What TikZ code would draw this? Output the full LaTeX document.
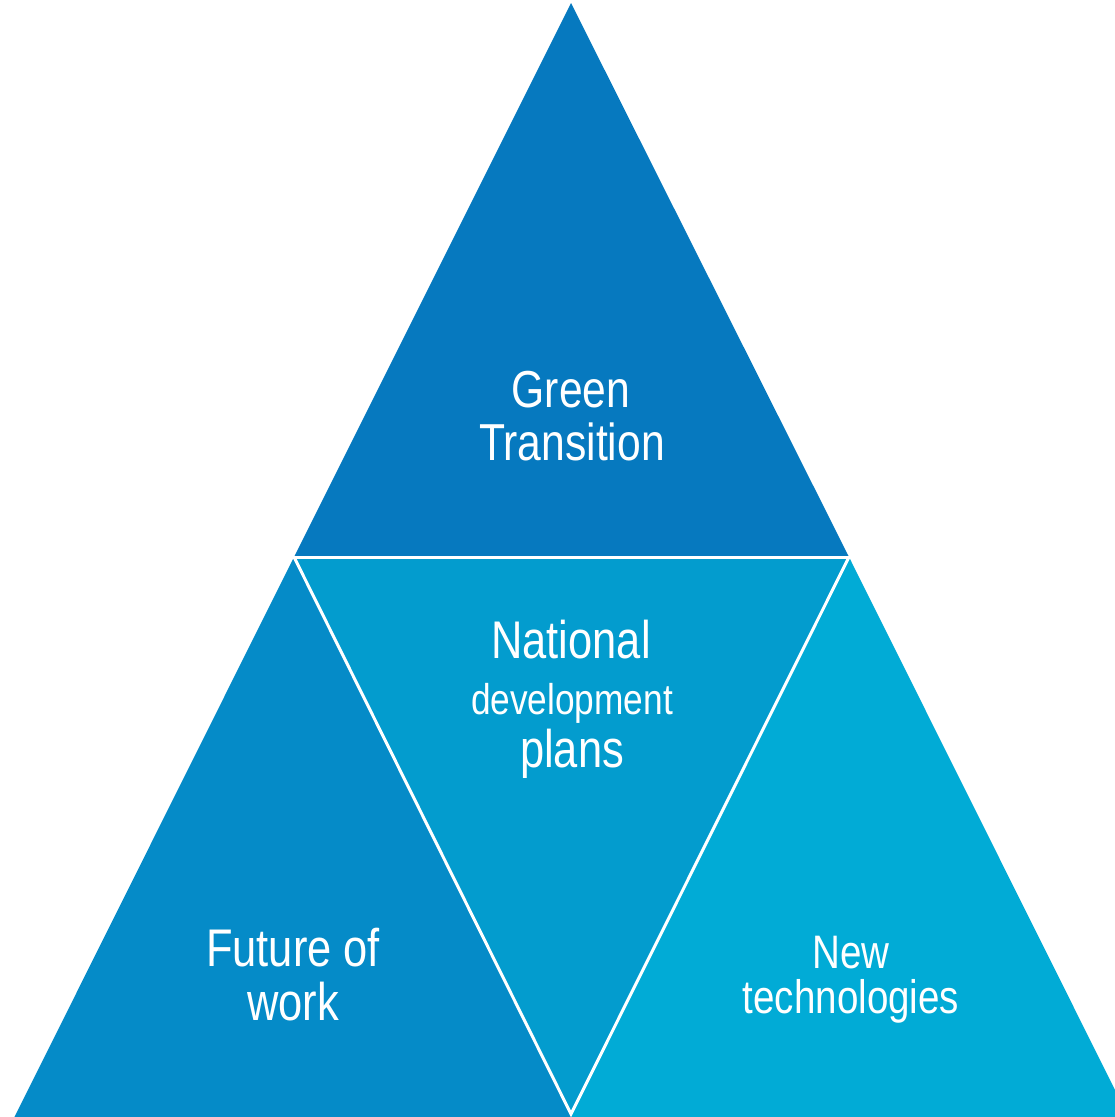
\documentclass[tikz,border=0pt]{standalone}
\usepackage{fontspec}
\setmainfont{Liberation Sans}[FakeStretch=0.82]
\begin{document}
\begin{tikzpicture}[x=1pt,y=-1pt,
  seam/.style={draw=white,line width=3pt,line cap=round},
  lbl/.style={text=white,anchor=base,inner sep=0pt}]
\definecolor{topblue}{HTML}{0679BF}
\definecolor{leftblue}{HTML}{058BC8}
\definecolor{midblue}{HTML}{039CCE}
\definecolor{rightblue}{HTML}{01ABD6}
\useasboundingbox (0,0) rectangle (1115,1117);
\clip (0,0) rectangle (1115,1117);
% corner points of the pyramid
\coordinate (apex) at (571,3);
\coordinate (ml) at (294,557);
\coordinate (mr) at (849,557);
\coordinate (mb) at (571,1114);
\coordinate (bl) at (-2,1150);
\coordinate (br) at (1145,1150);
\coordinate (bc) at (571,1150);
% four coloured triangles
\fill[topblue] (apex) -- (ml) -- (mr) -- cycle;
\fill[leftblue] (ml) -- (mb) -- (bc) -- (bl) -- cycle;
\fill[midblue] (ml) -- (mr) -- (mb) -- cycle;
\fill[rightblue] (mr) -- (br) -- (bc) -- (mb) -- cycle;
% white seams between the triangles
\draw[seam] (ml) -- (mr);
\draw[seam] (ml) -- (mb) -- (mr);
% labels
\node[lbl,font=\fontsize{52}{54}\selectfont] (green) at (571,407) {Green};
\node[lbl,font=\fontsize{52}{54}\selectfont] (transition) at (572,460) {Transition};
\node[lbl,font=\fontsize{53}{55}\selectfont] (national) at (571,658) {National};
\node[lbl,font=\fontsize{43}{45}\selectfont] (development) at (572,714) {development};
\node[lbl,font=\fontsize{53}{55}\selectfont] (plans) at (572,767) {plans};
\node[lbl,font=\fontsize{53}{55}\selectfont] (future) at (293,966) {Future of};
\node[lbl,font=\fontsize{53}{55}\selectfont] (work) at (293,1020) {work};
\node[lbl,font=\fontsize{47}{49}\selectfont] (new) at (851,968) {New};
\node[lbl,font=\fontsize{47}{49}\selectfont] (tech) at (851,1013) {technologies};
\end{tikzpicture}
\end{document}
